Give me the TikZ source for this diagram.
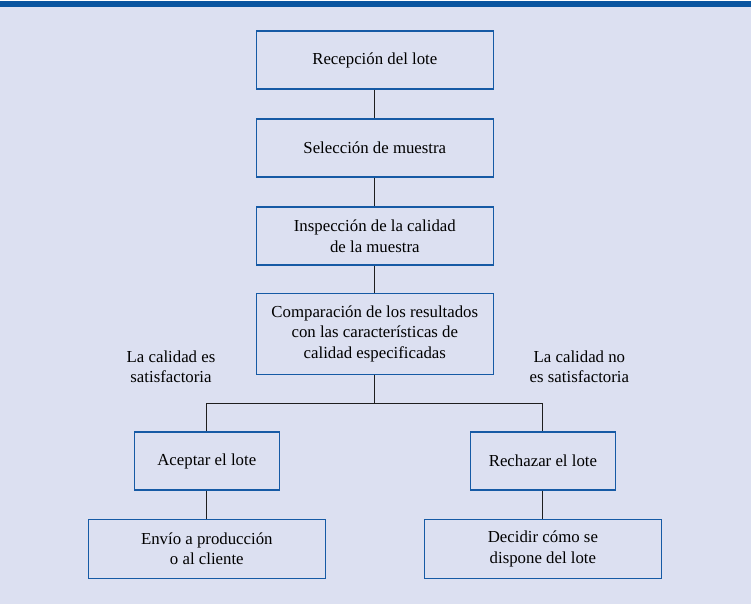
\documentclass[tikz,border=0pt]{standalone}
\usepackage{fontspec}
\setmainfont{Liberation Serif}
\definecolor{bgc}{RGB}{220,224,241}
\definecolor{barc}{RGB}{10,85,160}
\definecolor{boxc}{RGB}{22,90,165}
\definecolor{linec}{RGB}{30,30,30}
\begin{document}
\begin{tikzpicture}[x=1pt,y=-1pt,
  box/.style={draw=boxc,line width=1.1pt,minimum height=58pt,align=center,inner sep=0pt,font=\fontsize{16.8}{20.5}\selectfont},
  lbl/.style={align=center,inner sep=0pt,font=\fontsize{16.8}{20.5}\selectfont},
  conn/.style={draw=linec,line width=1pt}]
\useasboundingbox (0,0) rectangle (751,604);
\fill[white] (0,0) rectangle (751,604);
\fill[bgc] (0,7) rectangle (751,604);
\fill[barc] (0,1.5) rectangle (751,7);
\node[box,minimum width=237pt] (b1) at (374.8,60) {Recepción del lote};
\node[box,minimum width=237pt] (b2) at (374.8,148) {Selección de muestra};
\node[box,minimum width=237pt] (b3) at (374.8,236) {Inspección de la calidad\\de la muestra};
\node[box,minimum width=237pt,minimum height=81pt] (b4) at (374.8,333.8) {Comparación de los resultados\\con las características de\\calidad especificadas};
\node[box,minimum width=145pt] (acc) at (206.8,461) {Aceptar el lote};
\node[box,minimum width=145pt] (rej) at (542.9,461) {Rechazar el lote};
\node[box,minimum width=237pt,minimum height=59pt] (env) at (206.8,548.8) {Envío a producción\\o al cliente};
\node[box,minimum width=237pt,minimum height=59pt] (dec) at (542.9,548.8) {Decidir cómo se\\dispone del lote};
\node[lbl] (l1) at (171,366.7) {La calidad es\\satisfactoria};
\node[lbl] (l2) at (579.4,366.7) {La calidad no\\es satisfactoria};
\coordinate (j) at (374.8,404.3);
\draw[conn] (b1) -- (b2);
\draw[conn] (b2) -- (b3);
\draw[conn] (b3) -- (b4);
\draw[conn] (b4) -- (j);
\draw[conn] (acc.north) -- ++(0,-27.5) -| (rej.north);
\draw[conn] (acc) -- (env);
\draw[conn] (rej) -- (dec);
\end{tikzpicture}
\end{document}
